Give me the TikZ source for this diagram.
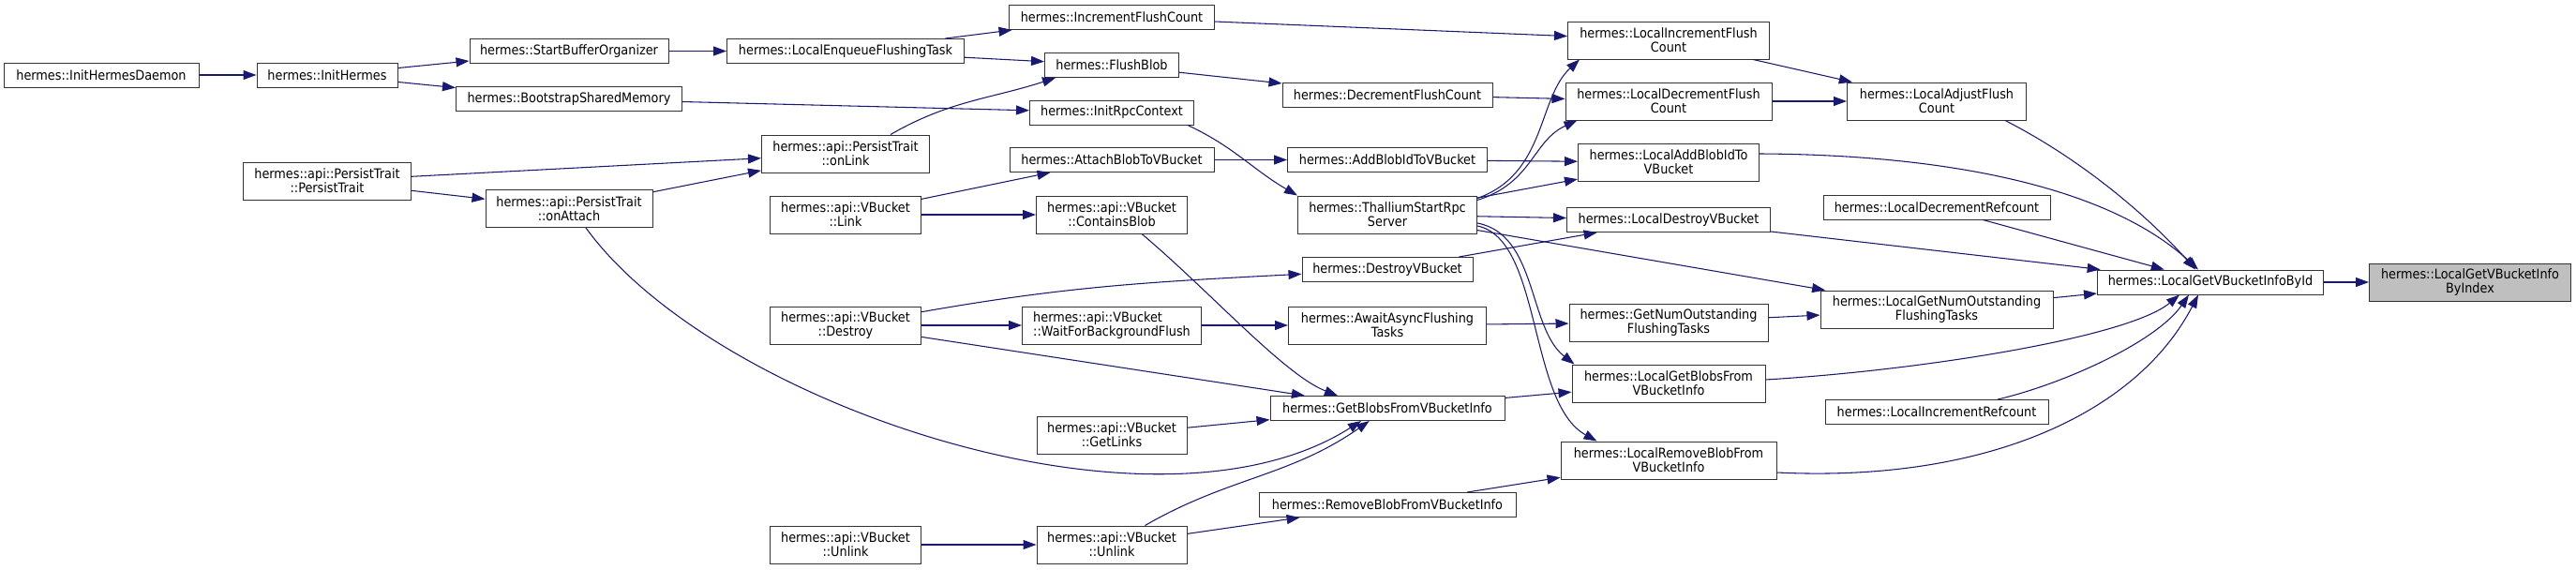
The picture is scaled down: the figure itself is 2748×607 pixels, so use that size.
\documentclass[tikz,border=0pt]{standalone}
\usepackage{fontspec}
\setmainfont[FakeStretch=0.9]{DejaVu Sans}
\usepackage{xcolor}
\usepackage{tikz}
\usetikzlibrary{arrows.meta,calc}
\definecolor{edgeblue}{HTML}{191970}
\definecolor{boxline}{HTML}{333333}
\definecolor{focusgray}{HTML}{BFBFBF}
\tikzset{
  funcbox/.style={draw=boxline,fill=white,line width=0.75pt,align=center,
    inner sep=0pt,minimum height=19.5pt,font=\fontsize{10.7}{11.3}\selectfont},
  funcboxtwo/.style={funcbox,minimum height=30pt},
  focusbox/.style={funcboxtwo,fill=focusgray},
  boxw/.style={minimum width=#1*0.75pt},
  callarrow/.style={-{Triangle[length=10.5pt,width=7.5pt]},line width=0.8pt,draw=edgeblue}
}

\begin{document}
\begin{tikzpicture}[x=0.75pt,y=0.75pt]
  \path[use as bounding box] (0,0) rectangle (2748,-607);

  \node[funcbox,boxw=208] (initdaemon) at (108,-80) {hermes::InitHermesDaemon};
  \node[funcbox,boxw=150] (inithermes) at (349,-80) {hermes::InitHermes};
  \node[funcboxtwo,boxw=179] (persisttrait) at (349,-193) {hermes::api::PersistTrait\\::PersistTrait};

  \node[funcbox,boxw=212] (startbuf) at (607,-54.5) {hermes::StartBufferOrganizer};
  \node[funcbox,boxw=241] (bootstrap) at (607,-105.5) {hermes::BootstrapSharedMemory};
  \node[funcboxtwo,boxw=178] (onattach) at (607,-222.5) {hermes::api::PersistTrait\\::onAttach};

  \node[funcbox,boxw=253] (enqueue) at (902,-54.5) {hermes::LocalEnqueueFlushingTask};
  \node[funcboxtwo,boxw=179] (onlink) at (902,-164) {hermes::api::PersistTrait\\::onLink};
  \node[funcboxtwo,boxw=161] (vblink) at (902,-229) {hermes::api::VBucket\\::Link};
  \node[funcboxtwo,boxw=161] (vbdestroy) at (902,-347) {hermes::api::VBucket\\::Destroy};
  \node[funcboxtwo,boxw=161] (unlinkapi) at (902,-581) {hermes::api::VBucket\\::Unlink};

  \node[funcbox,boxw=219] (incflush) at (1186,-18.5) {hermes::IncrementFlushCount};
  \node[funcbox,boxw=143] (flushblob) at (1186,-69.5) {hermes::FlushBlob};
  \node[funcbox,boxw=175] (initrpc) at (1186,-120) {hermes::InitRpcContext};
  \node[funcbox,boxw=218] (attachblob) at (1186,-170.5) {hermes::AttachBlobToVBucket};
  \node[funcboxtwo,boxw=161] (containsblob) at (1186,-229) {hermes::api::VBucket\\::ContainsBlob};
  \node[funcboxtwo,boxw=191,align=left] (waitflush) at (1186,-347) {hermes::api::VBucket\\::WaitForBackgroundFlush};
  \node[funcboxtwo,boxw=160] (getlinks) at (1186,-464) {hermes::api::VBucket\\::GetLinks};
  \node[funcboxtwo,boxw=160] (unlinkvb) at (1186,-581) {hermes::api::VBucket\\::Unlink};

  \node[funcbox,boxw=224] (decflush) at (1480,-101) {hermes::DecrementFlushCount};
  \node[funcbox,boxw=213] (addblobid) at (1480,-170.5) {hermes::AddBlobIdToVBucket};
  \node[funcboxtwo,boxw=191] (thallium) at (1480,-229) {hermes::ThalliumStartRpc\\Server};
  \node[funcbox,boxw=182] (destroyvb) at (1480,-287.5) {hermes::DestroyVBucket};
  \node[funcboxtwo,boxw=211] (awaitflush) at (1480,-347) {hermes::AwaitAsyncFlushing\\Tasks};
  \node[funcbox,boxw=250] (getblobs) at (1480,-435.5) {hermes::GetBlobsFromVBucketInfo};
  \node[funcbox,boxw=274] (removeblob) at (1480,-538.5) {hermes::RemoveBlobFromVBucketInfo};

  \node[funcboxtwo,boxw=215] (localincflush) at (1780,-43) {hermes::LocalIncrementFlush\\Count};
  \node[funcboxtwo,boxw=220] (localdecflush) at (1780,-108) {hermes::LocalDecrementFlush\\Count};
  \node[funcboxtwo,boxw=193] (localaddblob) at (1780,-173) {hermes::LocalAddBlobIdTo\\VBucket};
  \node[funcbox,boxw=217] (localdestroy) at (1780,-234.5) {hermes::LocalDestroyVBucket};
  \node[funcboxtwo,boxw=212] (getnumtasks) at (1780,-344) {hermes::GetNumOutstanding\\FlushingTasks};
  \node[funcboxtwo,boxw=206] (localgetblobs) at (1780,-409) {hermes::LocalGetBlobsFrom\\VBucketInfo};
  \node[funcboxtwo,boxw=230] (localremove) at (1780,-491) {hermes::LocalRemoveBlobFrom\\VBucketInfo};

  \node[funcboxtwo,boxw=191] (localadjust) at (2066,-108) {hermes::LocalAdjustFlush\\Count};
  \node[funcbox,boxw=242] (localdecref) at (2066,-221) {hermes::LocalDecrementRefcount};
  \node[funcboxtwo,boxw=248] (localgetnum) at (2066,-330) {hermes::LocalGetNumOutstanding\\FlushingTasks};
  \node[funcbox,boxw=238] (localincref) at (2066,-439.5) {hermes::LocalIncrementRefcount};

  \node[funcbox,boxw=241] (getbyid) at (2358,-301) {hermes::LocalGetVBucketInfoById};
  \node[focusbox,boxw=215] (getbyindex) at (2635,-301) {hermes::LocalGetVBucketInfo\\ByIndex};

  \draw[callarrow] (initdaemon)--(inithermes);
  \draw[callarrow] (inithermes)--(startbuf);
  \draw[callarrow] (inithermes)--(bootstrap);
  \draw[callarrow] (persisttrait)--(onlink);
  \draw[callarrow] (persisttrait)--(onattach);
  \draw[callarrow] (startbuf)--(enqueue);
  \draw[callarrow] (bootstrap)--(initrpc);
  \draw[callarrow] (onattach)--(onlink);
  \draw[callarrow] ($(onattach.south)+(18,0)$) .. controls (760,-430) and (1230,-590) .. ($(getblobs.south)+(-28,0)$);

  \draw[callarrow] (enqueue)--(incflush);
  \draw[callarrow] (enqueue)--(flushblob);
  \draw[callarrow] ($(onlink.north)+(48,0)$) to[out=30,in=198] ($(flushblob.south west)+(12,0)$);
  \draw[callarrow] (vblink)--(attachblob);
  \draw[callarrow] (vblink)--(containsblob);
  \draw[callarrow] (vbdestroy) to[out=10,in=183] (destroyvb);
  \draw[callarrow] (vbdestroy)--(waitflush);
  \draw[callarrow] (vbdestroy)--(getblobs);
  \draw[callarrow] (unlinkapi)--(unlinkvb);

  \draw[callarrow] (incflush)--(localincflush);
  \draw[callarrow] (flushblob)--(decflush);
  \draw[callarrow] ($(initrpc.south east)+(-7,0)$) to[out=-25,in=150] (thallium.north west);
  \draw[callarrow] (attachblob)--(addblobid);
  \draw[callarrow] ($(containsblob.south)+(32,0)$) .. controls (1290,-310) and (1370,-400) .. ($(getblobs.north)+(-53,0)$);
  \draw[callarrow] (waitflush)--(awaitflush);
  \draw[callarrow] (getlinks)--(getblobs);
  \draw[callarrow] (unlinkvb) to[out=30,in=-145] (getblobs);
  \draw[callarrow] (unlinkvb)--(removeblob);

  \draw[callarrow] (decflush)--(localdecflush);
  \draw[callarrow] (addblobid)--(localaddblob);
  \draw[callarrow] ($(thallium.north east)+(0,-3)$) .. controls (1650,-185) and (1640,-105) .. ($(localincflush.south west)+(13,0)$);
  \draw[callarrow] ($(thallium.north east)+(0,-5)$) .. controls (1635,-195) and (1635,-150) .. ($(localdecflush.south west)+(13,0)$);
  \draw[callarrow] (thallium)--(localaddblob);
  \draw[callarrow] (thallium)--(localdestroy);
  \draw[callarrow] (thallium)--(localgetnum);
  \draw[callarrow] ($(thallium.east)+(0,-9)$) .. controls (1640,-250) and (1630,-350) .. ($(localgetblobs.north west)+(3,0)$);
  \draw[callarrow] ($(thallium.east)+(0,-12)$) .. controls (1645,-255) and (1630,-430) .. ($(localremove.north west)+(39,0)$);
  \draw[callarrow] (destroyvb)--(localdestroy);
  \draw[callarrow] (awaitflush)--(getnumtasks);
  \draw[callarrow] (getblobs)--(localgetblobs);
  \draw[callarrow] (removeblob)--(localremove);

  \draw[callarrow] (localincflush)--(localadjust);
  \draw[callarrow] (localdecflush)--(localadjust);
  \draw[callarrow] (getnumtasks)--(localgetnum);

  \draw[callarrow] ($(localadjust.south east)+(-23,0)$) .. controls (2230,-175) and (2300,-240) .. ($(getbyid.north)+(-16,0)$);
  \draw[callarrow] ($(localaddblob.east)+(0,9)$) .. controls (2080,-165) and (2250,-200) .. ($(getbyid.north)+(-13,0)$);
  \draw[callarrow] (localdecref)--(getbyid);
  \draw[callarrow] (localdestroy)--(getbyid);
  \draw[callarrow] (localgetnum)--(getbyid);
  \draw[callarrow] ($(localgetblobs.east)+(0,4)$) .. controls (2050,-395) and (2270,-360) .. ($(getbyid.south)+(-33,0)$);
  \draw[callarrow] ($(localincref.north)+(65,0)$) .. controls (2200,-410) and (2300,-365) .. ($(getbyid.south)+(-23,0)$);
  \draw[callarrow] ($(localremove.east)+(0,-13)$) .. controls (2120,-515) and (2280,-440) .. ($(getbyid.south)+(-13,0)$);
  \draw[callarrow] (getbyid)--(getbyindex);
\end{tikzpicture}
\end{document}
